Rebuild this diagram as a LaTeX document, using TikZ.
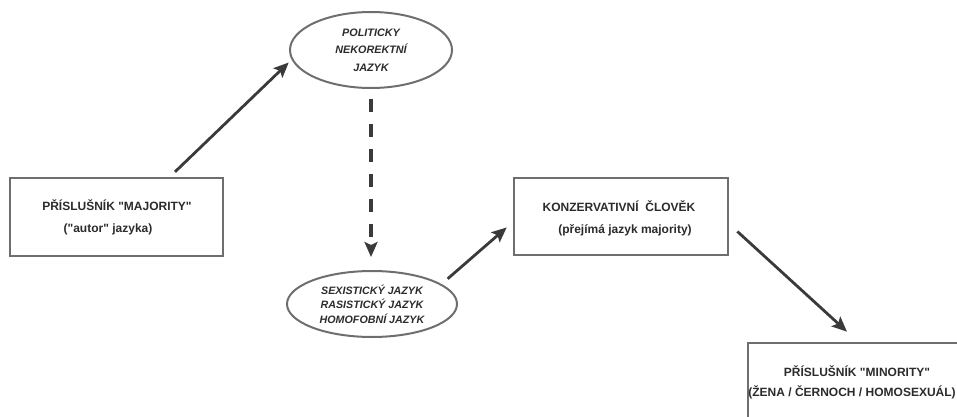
\documentclass[tikz,border=0pt]{standalone}
\usepackage{fontspec}
\setmainfont{Liberation Sans}
\usetikzlibrary{shapes,arrows.meta,positioning}

\definecolor{edgegray}{HTML}{6E6E6E}
\definecolor{arrowgray}{HTML}{3A3A3A}
\definecolor{textgray}{HTML}{2B2B2B}

\begin{document}
\begin{tikzpicture}[
    x=1pt, y=-1pt,
    box/.style={rectangle, draw=edgegray, line width=2.5pt, inner sep=0pt},
    bubble/.style={ellipse, draw=edgegray, line width=2pt, inner sep=0pt, align=center,
        text=textgray, font=\bfseries\itshape\fontsize{10.8}{17.5}\selectfont},
    lbl/.style={anchor=base, text=textgray, inner sep=0pt, font=\bfseries\fontsize{12}{14}\selectfont},
    arrow/.style={-{Stealth[length=15pt, width=13pt, inset=3pt]}, draw=arrowgray, line width=2.8pt},
    dasharrow/.style={arrow, line width=3.5pt, dash pattern=on 13.3pt off 11.7pt}
]
\useasboundingbox (0,0) rectangle (957,417);
\clip (0,0) rectangle (957,417);

% Boxes
\node[box, minimum width=213pt, minimum height=78pt] (maj) at (116.5,217) {};
\node[lbl] at (117,210) {PŘÍSLUŠNÍK \textquotedbl MAJORITY\textquotedbl};
\node[lbl] at (108,232.5) {(\textquotedbl autor\textquotedbl{} jazyka)};

\node[box, minimum width=214pt, minimum height=77pt] (cons) at (621,216.5) {};
\node[lbl] at (619,211.5) {KONZERVATIVNÍ \ ČLOVĚK};
\node[lbl] at (625,233.5) {(přejímá jazyk majority)};

\node[box, minimum width=240pt, minimum height=100pt] (mino) at (868,393) {};
\node[lbl] at (857,376.5) {PŘÍSLUŠNÍK \textquotedbl MINORITY\textquotedbl};
\node[lbl] at (852,396) {(ŽENA / ČERNOCH / HOMOSEXUÁL)};

% Ellipses
\node[bubble, minimum width=162pt, minimum height=76pt] (pol) at (371,50)
    {POLITICKY\\NEKOREKTNÍ\\JAZYK};
\node[bubble, minimum width=170pt, minimum height=66pt,
      font=\bfseries\itshape\fontsize{10.7}{14.5}\selectfont] (sex) at (372,304)
    {SEXISTICKÝ JAZYK\\RASISTICKÝ JAZYK\\HOMOFOBNÍ JAZYK};

% Connectors
\draw[arrow, shorten <=7pt, shorten >=4pt] (maj.37.3) -- (pol.187.4);
\draw[dasharrow, shorten <=10pt, shorten >=13pt] (pol.south) -- (pol.south |- sex.north);
\draw[arrow, shorten <=8pt, shorten >=8pt] (sex.16.3) -- (cons.183.4);
\draw[arrow, shorten <=11pt, shorten >=15pt] (cons.-4.4) -- (mino.101.3);

\end{tikzpicture}
\end{document}
